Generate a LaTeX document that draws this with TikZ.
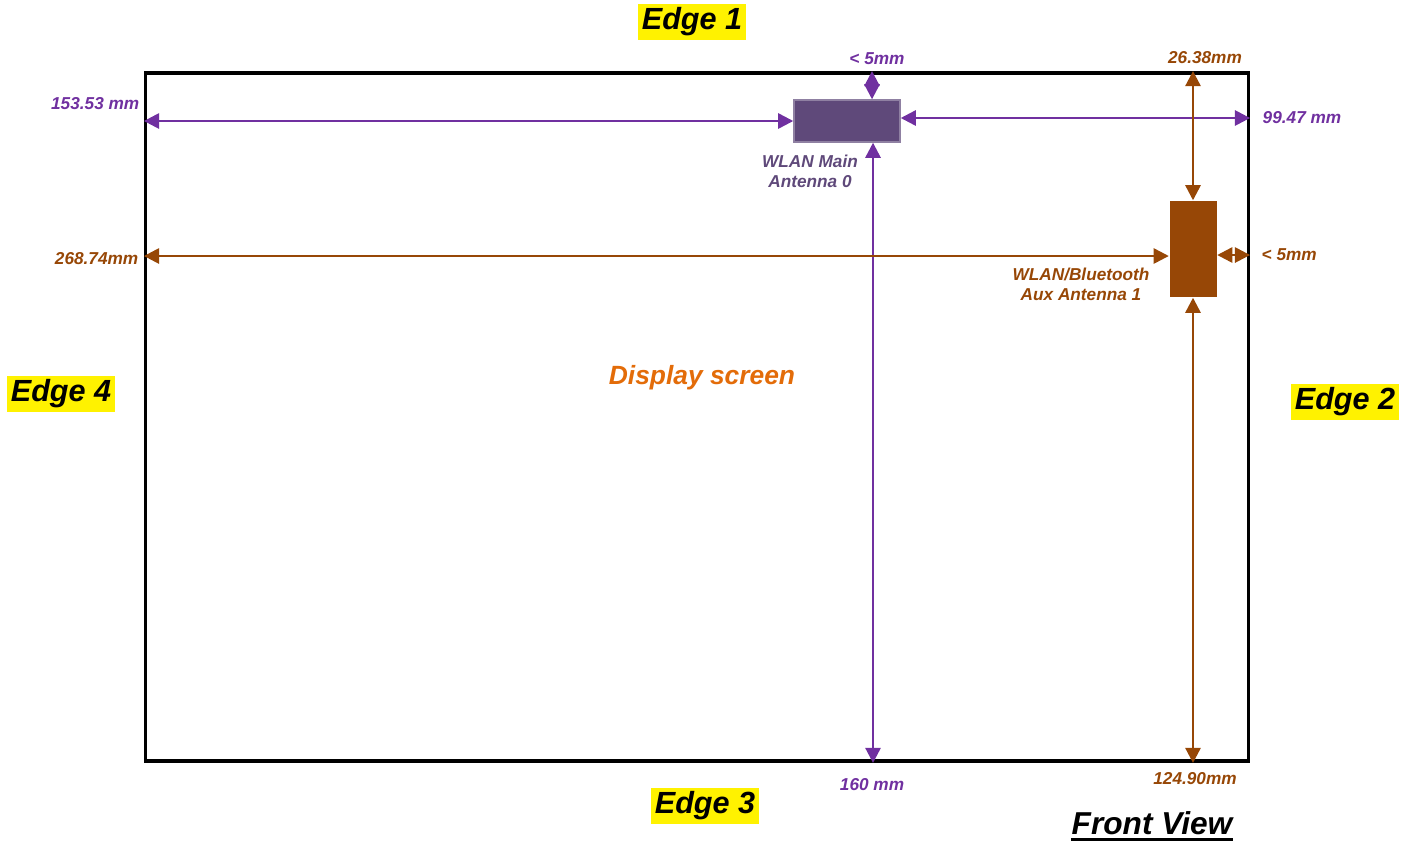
\documentclass[tikz,border=0pt]{standalone}
\usepackage{fontspec}
\setmainfont{Liberation Sans}
\usetikzlibrary{arrows.meta}
\definecolor{cotev}{RGB}{112,48,160}
\definecolor{coteb}{RGB}{151,71,6}
\definecolor{antv}{RGB}{95,73,122}
\definecolor{ecranor}{RGB}{227,108,9}
\begin{document}
\begin{tikzpicture}[x=0.01cm,y=-0.01cm]  % une unite = un pixel
\tikzstyle{cote}=[line width=0.7pt,{Triangle[length=4.3pt,width=4.3pt]}-{Triangle[length=4.3pt,width=4.3pt]}]
\tikzstyle{petit}=[inner sep=0pt,font=\fontsize{4.9}{5.7}\selectfont\bfseries\itshape]
\tikzstyle{bord}=[fill=yellow,inner sep=1pt,minimum height=0.36cm,font=\fontsize{8.7}{10}\selectfont\bfseries\itshape]
\useasboundingbox (0,0) rectangle (1415,845);
% le cadre et les antennes
\node[draw,line width=1pt,minimum width=11.02cm,minimum height=6.88cm,inner sep=0pt] (ecran) at (697,417) {};
\node[fill=antv,draw=antv!70,minimum width=1.06cm,minimum height=0.42cm,inner sep=0pt] (main) at (847,121) {};
\node[fill=coteb,minimum width=0.47cm,minimum height=0.96cm,inner sep=0pt] (aux) at (1193,249) {};
\node[text=ecranor,font=\fontsize{7.5}{9}\selectfont\bfseries\itshape] (titre) at (702,378) {Display screen};
% les bords
\node[bord] (bord1) at (692,22) {Edge 1};
\node[bord] (bord2) at (1345,402) {Edge 2};
\node[bord] (bord3) at (705,806) {Edge 3};
\node[bord] (bord4) at (61,394) {Edge 4};
\node[inner sep=0pt,font=\fontsize{9}{11}\selectfont\bfseries\itshape] (vue) at (1152,823) {Front View};
\draw[line width=0.9pt] ([yshift=-0.04cm]vue.south west) -- ([yshift=-0.04cm]vue.south east);
% cotes antenne 0
\draw[cote,cotev] (main.west) -- (main.west -| ecran.west);
\draw[cote,cotev] ([yshift=0.03cm]main.east) -- ([yshift=0.03cm]main.east -| ecran.east);
\draw[cote,cotev] ([xshift=0.25cm]main.north) -- ([xshift=0.25cm]main.north |- ecran.north);
\draw[cote,cotev] ([xshift=0.26cm]main.south) -- ([xshift=0.26cm]main.south |- ecran.south);
% cotes antenne 1
\draw[cote,coteb] ([yshift=-0.07cm]aux.west) -- ([yshift=-0.07cm]aux.west -| ecran.west);
\draw[cote,coteb] ([yshift=-0.06cm]aux.east) -- ([yshift=-0.06cm]aux.east -| ecran.east);
\draw[cote,coteb] (aux.north) -- (aux.north |- ecran.north);
\draw[cote,coteb] (aux.south) -- (aux.south |- ecran.south);
% textes
\node[petit,text=cotev] (c5v) at (877,59) {< 5mm};
\node[petit,text=cotev,anchor=east] (c153) at (140,104) {153.53 mm};
\node[petit,text=cotev,anchor=west] (c99) at (1262,118) {99.47 mm};
\node[petit,text=cotev] (c160) at (872,785) {160 mm};
\node[petit,text=antv,align=center] (nmain) at (810,171) {WLAN Main\\Antenna 0};
\node[petit,text=coteb] (c26) at (1205,58) {26.38mm};
\node[petit,text=coteb,anchor=east] (c268) at (139,259) {268.74mm};
\node[petit,text=coteb,anchor=west] (c5b) at (1261,255) {< 5mm};
\node[petit,text=coteb] (c124) at (1195,779) {124.90mm};
\node[petit,text=coteb,align=center] (naux) at (1081,284) {WLAN/Bluetooth\\Aux Antenna 1};
\end{tikzpicture}
\end{document}
